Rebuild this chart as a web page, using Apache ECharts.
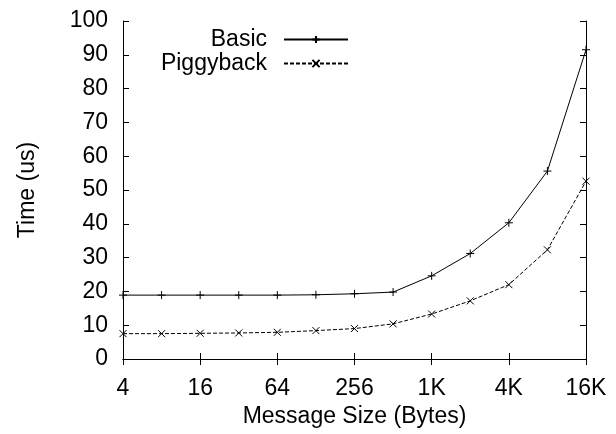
<!DOCTYPE html>
<html>
<head>
<meta charset="utf-8">
<script src="https://cdn.jsdelivr.net/npm/echarts@6/dist/echarts.min.js"></script>
<style>html,body{margin:0;padding:0;background:#fff;}#c{width:616px;height:434px;}</style>
</head>
<body>
<div id="c"></div>
<script>
// Message sizes (bytes)
var sizes = [4, 8, 16, 32, 64, 128, 256, 512, 1024, 2048, 4096, 8192, 16384];
// Time (us)
var basic = [18.9, 18.9, 18.9, 18.9, 18.9, 19.0, 19.3, 19.8, 24.6, 31.2, 40.3, 55.6, 91.5];
var piggyback = [7.5, 7.5, 7.6, 7.7, 7.9, 8.4, 9.0, 10.4, 13.3, 17.2, 22.0, 32.3, 52.6];
// X tick labels (every 4x)
var xTickLabels = ['4', '16', '64', '256', '1K', '4K', '16K'];

var FONT = 'Liberation Sans, Arial, Helvetica, sans-serif';
var FS = 23;

function pts(vals) {
  return sizes.map(function (s, i) { return [Math.log2(s), vals[i]]; });
}

var plus = 'path://M0,5L10,5M5,0L5,10';
var cross = 'path://M0,0L10,10M0,10L10,0';

var chart = echarts.init(document.getElementById('c'), null, {renderer: 'canvas'});
var tickStyle = {show: true, inside: true, length: 6, lineStyle: {color: '#000', width: 1}};
var lineStyleAxis = {show: true, lineStyle: {color: '#000', width: 1}};

chart.setOption({
  animation: false,
  backgroundColor: '#fff',
  textStyle: {fontFamily: FONT},
  grid: {left: 123, right: 30, top: 21, bottom: 75, containLabel: false},
  legend: [
    {
      data: ['Basic'], right: 267, top: 28, align: 'right',
      itemWidth: 64, itemHeight: 9, padding: 0,
      textStyle: {fontSize: FS, color: '#000', fontFamily: FONT, padding: [0, 12, 0, 0]}
    },
    {
      data: ['Piggyback'], right: 267, top: 52, align: 'right',
      itemWidth: 64, itemHeight: 9, padding: 0,
      textStyle: {fontSize: FS, color: '#000', fontFamily: FONT, padding: [0, 12, 0, 0]}
    }
  ],
  xAxis: [
    {
      type: 'value', min: 2, max: 14, interval: 2, position: 'bottom',
      name: 'Message Size (Bytes)', nameLocation: 'middle', nameGap: 46,
      nameTextStyle: {fontSize: FS, color: '#000', fontFamily: FONT},
      axisLine: lineStyleAxis, axisTick: tickStyle, splitLine: {show: false},
      axisLabel: {
        fontSize: FS, color: '#000', fontFamily: FONT, margin: 18,
        formatter: function (v) { return xTickLabels[Math.round((v - 2) / 2)]; }
      }
    },
    {
      type: 'value', min: 2, max: 14, interval: 2, position: 'top',
      axisLine: lineStyleAxis, axisTick: tickStyle, splitLine: {show: false},
      axisLabel: {show: false}
    }
  ],
  yAxis: [
    {
      type: 'value', min: 0, max: 100, interval: 10, position: 'left',
      name: 'Time (us)', nameLocation: 'middle', nameGap: 84, nameRotate: 90,
      nameTextStyle: {fontSize: FS, color: '#000', fontFamily: FONT},
      axisLine: lineStyleAxis, axisTick: tickStyle, splitLine: {show: false},
      axisLabel: {fontSize: FS, color: '#000', fontFamily: FONT, margin: 15}
    },
    {
      type: 'value', min: 0, max: 100, interval: 10, position: 'right',
      axisLine: lineStyleAxis, axisTick: tickStyle, splitLine: {show: false},
      axisLabel: {show: false}
    }
  ],
  series: [
    {
      name: 'Basic', type: 'line', data: pts(basic),
      symbol: plus, symbolSize: 8, showAllSymbol: true,
      lineStyle: {color: '#000', width: 1, type: 'solid'},
      itemStyle: {color: '#000', borderColor: '#000', borderWidth: 1}
    },
    {
      name: 'Piggyback', type: 'line', data: pts(piggyback),
      symbol: cross, symbolSize: 7, showAllSymbol: true,
      lineStyle: {color: '#000', width: 1, type: [4, 2]},
      itemStyle: {color: '#000', borderColor: '#000', borderWidth: 1}
    }
  ]
});
</script>
</body>
</html>
